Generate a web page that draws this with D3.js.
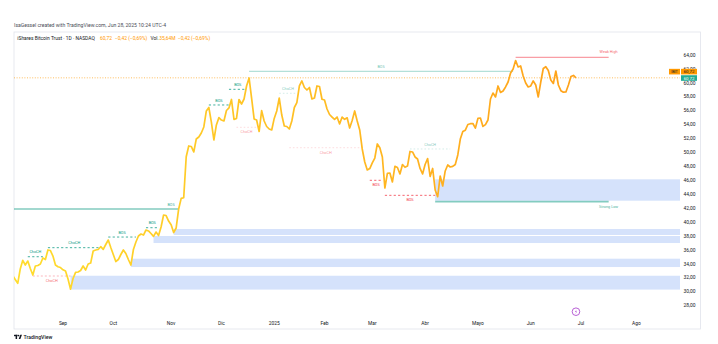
<!DOCTYPE html>
<html><head><meta charset="utf-8">
<script src="https://cdn.jsdelivr.net/npm/d3@7"></script>
<style>
body{margin:0;background:#fff}
svg{display:block;font-family:Roboto,"Noto Sans",sans-serif}
</style>
</head><body>
<svg id="c" width="718" height="344"></svg>
<script>
// ---------- DATA ----------
const startDate = "2024-08-05";
const holidays = ["2024-09-02","2024-11-28","2024-12-25","2025-01-01","2025-01-09","2025-01-20",
  "2025-02-17","2025-04-18","2025-05-26","2025-06-19","2025-07-04"];
// daily closes of IBIT, one per trading session from 2024-08-05 to 2025-06-27
const closes = [
 32.3,31.76,31.2,33.26,34.5,33.83,34.4,33.33,32.39,33.69,
 33.76,33.97,34.84,34.62,35.99,35.91,35.12,33.83,33.59,33.47,
 33.14,32.96,31.82,30.36,31.9,32.77,32.83,33.04,33.69,33.11,
 33.97,34.11,35.84,35.99,36.06,36.46,36.09,36.78,37.42,36.34,
 35.34,34.33,34.62,35.34,35.99,35.48,34.62,33.83,36.06,37.14,
 38.0,38.28,38.14,38.86,38.72,38.36,37.94,38.57,38.07,39.29,
 41.01,40.94,40.15,39.63,38.5,39.15,41.88,43.41,43.5,49.39,
 50.93,50.86,50.07,51.93,52.22,52.8,53.66,55.96,56.46,54.35,
 51.79,53.95,55.0,54.66,54.52,56.03,56.39,57.61,54.74,54.89,
 57.61,56.96,57.68,59.55,60.7,57.82,54.81,54.66,53.01,56.0,
 54.52,53.73,53.37,53.23,54.89,55.96,57.82,55.38,53.8,53.73,
 53.37,54.52,56.46,57.15,59.55,60.27,59.33,58.97,59.33,57.68,
 57.82,59.55,59.48,57.64,57.54,56.24,55.45,55.09,54.74,55.09,
 54.09,55.09,54.76,54.98,53.51,54.59,55.96,54.52,53.23,50.5,
 48.63,47.48,47.68,48.49,49.2,51.22,50.67,49.35,44.89,47.01,
 47.05,45.76,48.01,47.84,46.91,48.27,47.87,48.05,50.14,50.07,
 49.35,49.06,47.7,46.91,48.27,49.13,46.55,47.7,44.61,43.64,
 46.62,45.18,47.34,48.2,47.91,48.0,48.27,49.64,51.93,53.01,
 53.2,54.02,54.13,54.16,53.49,54.89,54.95,53.74,54.0,54.66,
 57.68,58.54,57.97,59.55,58.62,58.83,59.41,60.12,61.42,61.99,
 63.2,62.28,62.42,60.99,59.98,59.41,59.55,60.27,59.69,57.97,
 60.12,62.06,62.32,61.78,60.41,59.91,61.7,59.69,58.87,58.66,
 58.69,59.69,60.91,61.06,60.72
];
const lastPrice = 60.72;
const monthTickDates = ["2024-09-03","2024-10-01","2024-11-01","2024-12-02","2025-01-02","2025-02-03",
  "2025-03-03","2025-04-01","2025-05-01","2025-06-02","2025-07-01","2025-08-01"];
const monthTickLabels = ["Sep","Oct","Nov","Dic","2025","Feb","Mar","Abr","Mayo","Jun","Jul","Ago"];
const priceTicks = [28,30,32,34,36,38,40,42,44,46,48,50,52,54,56,58,60,62,64];

// market structure (BOS / ChoCH)
const structLabels = ["BOS","ChoCH","ChoCH","BOS","BOS","ChoCH","BOS","BOS","BOS","ChoCH","ChoCH","ChoCH","BOS","BOS","ChoCH"];
const structLevels = [41.88,35.02,36.32,37.85,39.19,32.25,56.82,59.07,61.66,53.61,58.5,50.68,46.0,43.84,50.5];
const structStart = ["2024-08-05","2024-08-13","2024-08-23","2024-09-27","2024-10-18","2024-08-15","2024-11-22",
  "2024-12-05","2024-12-17","2024-12-10","2025-01-06","2025-01-13","2025-02-28","2025-03-10","2025-03-24"];
const structEnd = ["2024-11-06","2024-08-21","2024-09-24","2024-10-14","2024-10-25","2024-09-06","2024-12-05",
  "2024-12-16","2025-05-21","2024-12-20","2025-01-16","2025-02-25","2025-03-07","2025-04-07","2025-04-15"];
const structLabelDate = ["2024-11-01",null,null,null,null,null,null,null,null,null,null,null,null,null,null];
const structBias = ["bull","bull","bull","bull","bull","bear","bull","bull","bull","bear","bull","bear","bear","bear","bull"];
const structStyle = ["swing","internal","internal","internal","internal","internalFaint","internal","internal",
  "swingFaint","faint","faint","faint","internal","internal","faint"];

// order blocks
const zoneTop = [32.29,34.74,38.0,39.0,46.14];
const zoneBottom = [30.3,33.54,36.99,38.14,43.07];
const zoneStart = ["2024-09-06","2024-10-10","2024-10-23","2024-11-04","2025-04-07"];

// strong / weak extremes
const extremeLabels = ["Weak High","Strong Low"];
const extremeLevels = [63.67,42.93];
const extremeStart = ["2025-05-22","2025-04-07"];
const extremeEnd = ["2025-07-17","2025-07-17"];

// ---------- TRADING CALENDAR ----------
function buildCalendar(start, count){
  const out=[]; const d=new Date(start+"T12:00:00Z");
  while(out.length<count){
    const dow=d.getUTCDay(); const s=d.toISOString().slice(0,10);
    if(dow!==0 && dow!==6 && !holidays.includes(s)) out.push(s);
    d.setUTCDate(d.getUTCDate()+1);
  }
  return out;
}
const calendar = buildCalendar(startDate, 270);
const sess = s => calendar.indexOf(s);
const dates = calendar.slice(0, closes.length);

// ---------- LAYOUT ----------
const svg = d3.select("#c");
const plot = {left:14, right:680, top:32, bottom:315};
const x = d3.scaleLinear().domain([sess("2024-09-03"), sess("2025-07-01")]).range([63, 581]);
const y = d3.scaleLinear().domain([28, 64]).range([305.6, 55.0]);

const teal = "#089981", red = "#f23645", orange = "#ff9800";

// header
svg.append("text").attr("x",14).attr("y",26.5).attr("font-size",5.1).attr("fill","#4a4d57")
  .text("IsaGessel created with TradingView.com, Jun 28, 2025 10:24 UTC-4");
// frame
svg.append("rect").attr("x",14).attr("y",32).attr("width",686.5).attr("height",297)
  .attr("fill","none").attr("stroke","#e0e3eb").attr("stroke-width",0.8);

const title = svg.append("text").attr("y",39.5).attr("font-size",4.9);
title.append("tspan").attr("x",17.3).attr("fill","#131722").text("iShares Bitcoin Trust · 1D · NASDAQ");
title.append("tspan").attr("x",100).attr("fill",orange).text("60,72");
title.append("tspan").attr("x",115).attr("fill",orange).text("−0,42 (−0,69%)");
title.append("tspan").attr("x",150.5).attr("fill","#131722").text("Vol.");
title.append("tspan").attr("dx",0.4).attr("fill",orange).text("35,64M");
title.append("tspan").attr("dx",2.5).attr("fill",orange).text("−0,42 (−0,69%)");

// clip
svg.append("defs").append("clipPath").attr("id","clip").append("rect")
  .attr("x",plot.left).attr("y",plot.top).attr("width",plot.right-plot.left).attr("height",plot.bottom-plot.top);
const g = svg.append("g").attr("clip-path","url(#clip)");

// zones
g.selectAll("rect.zone").data(zoneTop.map((t,i)=>({t,b:zoneBottom[i],s:zoneStart[i]})))
  .enter().append("rect").attr("class","zone")
  .attr("x",d=>x(sess(d.s))).attr("y",d=>y(d.t))
  .attr("width",d=>plot.right-x(sess(d.s))).attr("height",d=>y(d.b)-y(d.t))
  .attr("fill","#d5e2fb");

// structure lines
const styleMap = {
  swing:{w:1.6,dash:null,op:0.5},
  swingFaint:{w:1.2,dash:null,op:0.3},
  internal:{w:0.9,dash:"2.2,2.2",op:0.85},
  internalFaint:{w:0.8,dash:"2,2",op:0.45},
  faint:{w:0.8,dash:"1.6,2",op:0.22}
};
const structs = structLabels.map((l,i)=>({l,lv:structLevels[i],s:structStart[i],e:structEnd[i],
  ld:structLabelDate[i],b:structBias[i],st:styleMap[structStyle[i]]}));
structs.forEach(d=>{
  const col = d.b==="bull"?teal:red;
  const ln = g.append("line").attr("x1",x(sess(d.s))).attr("x2",x(sess(d.e)))
    .attr("y1",y(d.lv)).attr("y2",y(d.lv)).attr("stroke",col)
    .attr("stroke-width",d.st.w).attr("stroke-opacity",d.st.op);
  if(d.st.dash) ln.attr("stroke-dasharray",d.st.dash);
  const lx = d.ld ? x(sess(d.ld)) : (x(sess(d.s))+x(sess(d.e)))/2;
  g.append("text").attr("x",lx).attr("y",d.b==="bull"?y(d.lv)-3.4:y(d.lv)+6)
    .attr("text-anchor","middle").attr("font-size",3.8).attr("fill",col)
    .attr("fill-opacity",Math.min(1,d.st.op+0.35)).text(d.l);
});

// strong / weak extremes
extremeLabels.forEach((l,i)=>{
  const col = i===0?red:teal;
  const x1=x(sess(extremeStart[i])), x2=x(sess(extremeEnd[i]));
  svg.append("line").attr("x1",x1).attr("x2",x2).attr("y1",y(extremeLevels[i])).attr("y2",y(extremeLevels[i]))
    .attr("stroke",col).attr("stroke-width",i===0?1:1.6).attr("stroke-opacity",i===0?0.6:0.5);
  svg.append("text").attr("x",x2).attr("y",i===0?y(extremeLevels[i])-4.5:y(extremeLevels[i])+6.5)
    .attr("text-anchor","middle").attr("font-size",3.8).attr("fill",col).attr("fill-opacity",0.8).text(l);
});

// last price dotted line
g.append("line").attr("x1",plot.left).attr("x2",plot.right).attr("y1",y(lastPrice)).attr("y2",y(lastPrice))
  .attr("stroke",orange).attr("stroke-width",0.8).attr("stroke-dasharray","1,1.6").attr("stroke-opacity",0.8);

// price line with gradient
const grad = svg.select("defs").append("linearGradient").attr("id","lg")
  .attr("gradientUnits","userSpaceOnUse").attr("x1",x(0)).attr("x2",x(closes.length-1)).attr("y1",0).attr("y2",0);
grad.append("stop").attr("offset","0%").attr("stop-color","#ffdd2e");
grad.append("stop").attr("offset","100%").attr("stop-color","#ffa21a");
const line = d3.line().x((d,i)=>x(sess(dates[i]))).y(d=>y(d)).curve(d3.curveLinear);
g.append("path").datum(closes).attr("d",line).attr("fill","none")
  .attr("stroke","url(#lg)").attr("stroke-width",1.7).attr("stroke-linejoin","round");

// y axis labels
svg.selectAll("text.yt").data(priceTicks).enter().append("text").attr("class","yt")
  .attr("x",689.5).attr("y",d=>y(d)+1.7).attr("text-anchor","middle").attr("font-size",4.9)
  .attr("fill","#131722").text(d=>d3.format(".2f")(d).replace(".",","));

// x axis labels
svg.selectAll("text.xt").data(monthTickDates).enter().append("text").attr("class","xt")
  .attr("x",d=>x(sess(d))).attr("y",325).attr("text-anchor","middle").attr("font-size",4.9)
  .attr("fill","#131722").text((d,i)=>monthTickLabels[i]);

// price scale labels
const ly = y(lastPrice);
svg.append("rect").attr("x",669).attr("y",ly-9).attr("width",11).attr("height",5.6).attr("fill",orange);
svg.append("text").attr("x",674.5).attr("y",ly-4.7).attr("text-anchor","middle").attr("font-size",3.8).attr("fill","#131722").text("IBIT");
svg.append("rect").attr("x",681).attr("y",ly-9).attr("width",16).attr("height",5.6).attr("fill",orange);
svg.append("text").attr("x",689).attr("y",ly-4.6).attr("text-anchor","middle").attr("font-size",4.4).attr("fill","#131722").text("60,72");
svg.append("rect").attr("x",681).attr("y",ly-2.6).attr("width",16).attr("height",5.6).attr("fill","#22ab94");
svg.append("text").attr("x",689).attr("y",ly+1.8).attr("text-anchor","middle").attr("font-size",4.4).attr("fill","#fff").text("60,72");

// event marker
const ex = x(sess(dates[dates.length-1]));
svg.append("circle").attr("cx",ex).attr("cy",311.7).attr("r",3.8).attr("fill","#fff").attr("stroke","#b04fd0").attr("stroke-width",0.9);
svg.append("path").attr("d",`M${ex+0.6},${309.6} L${ex-1},${312} L${ex+0.2},${312} L${ex-0.6},${314} L${ex+1.1},${311.4} L${ex-0.1},${311.4} Z`).attr("fill","#b04fd0");

// TradingView logo
const lg = svg.append("g").attr("fill","#131722");
lg.append("rect").attr("x",14).attr("y",334.8).attr("width",3.6).attr("height",1.4);
lg.append("rect").attr("x",15.6).attr("y",334.8).attr("width",1.5).attr("height",4.2);
lg.append("circle").attr("cx",18.6).attr("cy",335.6).attr("r",0.8);
lg.append("path").attr("d","M20.3,334.8 L22,334.8 L20.4,339 L18.7,339 Z");
svg.append("text").attr("x",23.5).attr("y",338.8).attr("font-size",5.2).attr("font-weight",500).attr("fill","#131722").text("TradingView");
</script>
</body></html>
